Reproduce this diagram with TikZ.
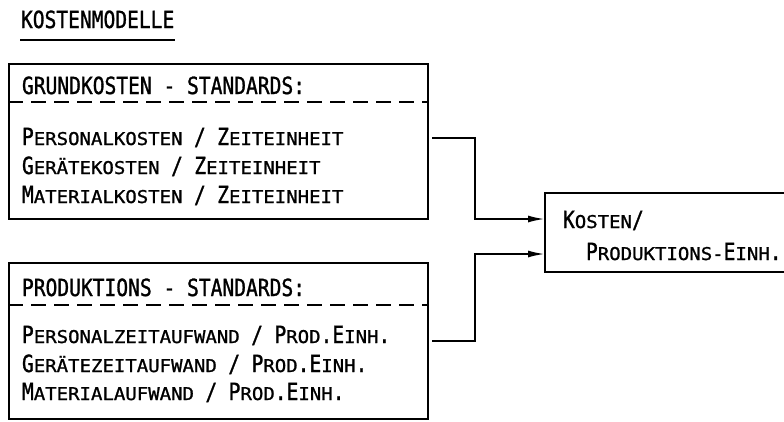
\documentclass[tikz,border=0pt]{standalone}
\usepackage{fontspec}
\usetikzlibrary{arrows.meta}
\newfontfamily\plotfont[FakeStretch=0.83,FakeBold=1.2]{DejaVu Sans Mono}
\newfontfamily\plotscfont[FakeStretch=1.08,FakeBold=1.2]{DejaVu Sans Mono}
\newcommand\sm[1]{{\plotscfont\fontsize{17.6}{20}\selectfont #1}}
\begin{document}
\begin{tikzpicture}[x=1pt,y=-1pt,
  line width=2pt,
  txt/.style={anchor=base west, inner sep=0pt, font=\plotfont\fontsize{23.6}{28}\selectfont},
  boxframe/.style={draw, anchor=north west, inner sep=0pt},
  conn/.style={-{Latex[length=17pt,width=7pt]}, line width=2pt},
  sep/.style={dash pattern=on 15pt off 8pt, line width=2pt}]
\useasboundingbox (0,0) rectangle (784,421);
% title
\node[txt] (title) at (20,28) {KOSTENMODELLE};
\draw (title.south west |- 0,40) coordinate (ul1) -- (175,40) coordinate (ul2);
% box 1
\node[boxframe, minimum width=419pt, minimum height=155pt] (g) at (8,63) {};
\node[txt] (gh) at (21,94) {GRUNDKOSTEN - STANDARDS:};
\draw[sep] (g.west |- 0,102) coordinate (gd1) -- (g.east |- 0,102) coordinate (gd2);
\node[txt] (g1) at (21,145) {P\sm{ERSONALKOSTEN }/\sm{ }Z\sm{EITEINHEIT}};
\node[txt] (g2) at (21,174) {G\sm{ERÄTEKOSTEN }/\sm{ }Z\sm{EITEINHEIT}};
\node[txt] (g3) at (21,203) {M\sm{ATERIALKOSTEN }/\sm{ }Z\sm{EITEINHEIT}};
% box 2
\node[boxframe, minimum width=419pt, minimum height=156pt] (p) at (8,262) {};
\node[txt] (ph) at (21,296) {PRODUKTIONS - STANDARDS:};
\draw[sep] (p.west |- 0,305) coordinate (pd1) -- (p.east |- 0,305) coordinate (pd2);
\node[txt] (p1) at (21,343) {P\sm{ERSONALZEITAUFWAND }/\sm{ }P\sm{ROD}.E\sm{INH}.};
\node[txt] (p2) at (21,372) {G\sm{ERÄTEZEITAUFWAND }/\sm{ }P\sm{ROD}.E\sm{INH}.};
\node[txt] (p3) at (21,400) {M\sm{ATERIALAUFWAND }/\sm{ }P\sm{ROD}.E\sm{INH}.};
% box 3 (right side runs off the page)
\node[anchor=north west, inner sep=0pt, minimum width=250pt, minimum height=77pt] (k) at (545,193) {};
\draw (k.north east) -- (k.north west) -- (k.south west) -- (k.south east);
\node[txt] (k1) at (562,228) {K\sm{OSTEN}/};
\node[txt] (k2) at (585,260) {P\sm{RODUKTIONS-}E\sm{INH}.};
% connectors
\draw[conn] ([xshift=3pt,yshift=3.5pt]g.east) -| (475,219) -- (k.west |- 0,219);
\draw[conn] ([xshift=3pt]p.east) -| (475,254) -- (k.west |- 0,254);
\end{tikzpicture}
\end{document}
